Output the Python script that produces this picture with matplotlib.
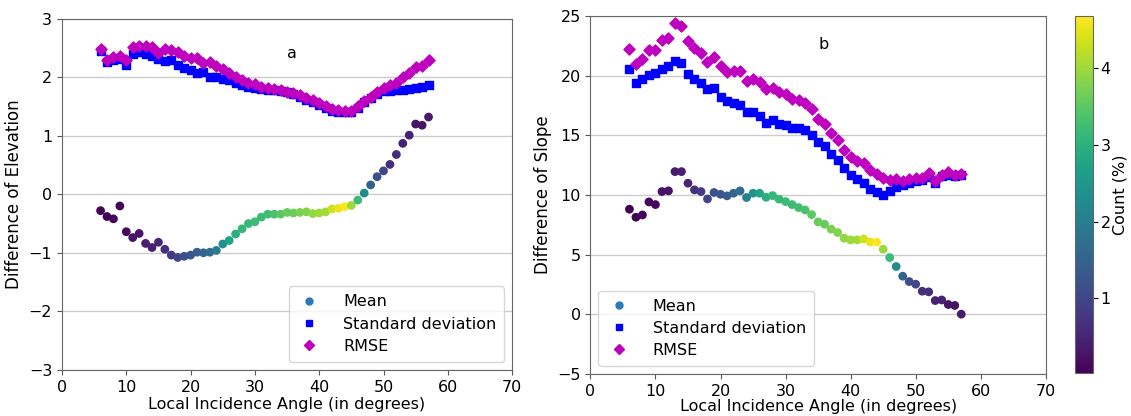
import matplotlib
matplotlib.use("Agg")
import matplotlib.pyplot as plt
from matplotlib.lines import Line2D
import numpy as np

# incidence angle bins (degrees)
angle = list(range(6, 58))

# share of pixels in each angle bin (%)
count = [0.03, 0.06, 0.09, 0.12, 0.15, 0.26, 0.28, 0.40, 0.42, 0.50,
         0.63, 0.82, 0.96, 1.15, 1.24, 1.38, 1.52, 1.70, 1.98, 2.36,
         2.73, 2.96, 3.10, 3.15, 3.20, 3.20, 3.25, 3.35, 3.50, 3.60,
         3.62, 3.75, 3.78, 3.90, 4.00, 4.02, 4.35, 4.55, 4.68, 3.98,
         3.20, 2.25, 1.47, 1.15, 1.00, 0.63, 0.63, 0.45, 0.45, 0.26,
         0.26, 0.35]

# elevation differences
elev_mean = [-0.28, -0.38, -0.42, -0.20, -0.64, -0.74, -0.67, -0.84, -0.91, -0.82,
             -0.94, -1.04, -1.08, -1.06, -1.04, -0.99, -1.00, -0.99, -0.96, -0.85,
             -0.79, -0.68, -0.59, -0.50, -0.47, -0.39, -0.34, -0.34, -0.34, -0.31,
             -0.32, -0.31, -0.30, -0.33, -0.32, -0.30, -0.25, -0.24, -0.21, -0.19,
             -0.10, 0.02, 0.16, 0.30, 0.40, 0.51, 0.68, 0.87, 1.01, 1.20,
             1.18, 1.32]
elev_std = [2.45, 2.26, 2.30, 2.32, 2.21, 2.40, 2.43, 2.39, 2.36, 2.31,
            2.27, 2.29, 2.21, 2.16, 2.13, 2.07, 2.09, 2.01, 2.00, 1.97,
            1.95, 1.90, 1.87, 1.83, 1.81, 1.80, 1.79, 1.78, 1.76, 1.74,
            1.71, 1.66, 1.61, 1.58, 1.52, 1.48, 1.42, 1.41, 1.40, 1.40,
            1.47, 1.57, 1.65, 1.72, 1.77, 1.77, 1.78, 1.79, 1.80, 1.81,
            1.83, 1.87]
elev_rmse = [2.48, 2.30, 2.34, 2.37, 2.30, 2.52, 2.53, 2.53, 2.52, 2.41,
             2.48, 2.46, 2.43, 2.37, 2.33, 2.33, 2.24, 2.26, 2.19, 2.14,
             2.07, 2.01, 1.96, 1.91, 1.88, 1.84, 1.81, 1.80, 1.78, 1.75,
             1.73, 1.69, 1.64, 1.61, 1.56, 1.50, 1.46, 1.44, 1.43, 1.43,
             1.50, 1.59, 1.67, 1.74, 1.81, 1.86, 1.91, 2.01, 2.07, 2.17,
             2.19, 2.29]

# slope differences
slope_mean = [8.80, 8.13, 8.32, 9.41, 9.19, 10.28, 10.34, 11.95, 11.95, 10.98,
              10.42, 10.28, 9.66, 10.20, 10.05, 9.92, 10.14, 10.34, 9.78, 10.14,
              10.14, 9.80, 9.94, 9.64, 9.44, 9.19, 8.94, 8.74, 8.35, 7.74,
              7.54, 7.13, 6.85, 6.37, 6.23, 6.23, 6.31, 6.06, 6.04, 5.45,
              4.75, 4.00, 3.19, 2.74, 2.52, 1.93, 1.88, 1.15, 1.20, 0.82,
              0.74, 0.01]
slope_std = [20.53, 19.35, 19.72, 20.08, 20.25, 20.55, 20.80, 21.22, 21.03, 20.13,
             19.72, 19.35, 18.91, 18.99, 18.24, 17.87, 17.68, 17.57, 16.95, 16.93,
             16.62, 16.06, 16.25, 15.95, 15.86, 15.58, 15.61, 15.42, 15.03, 14.44,
             14.08, 13.41, 12.90, 12.26, 11.70, 11.31, 11.00, 10.47, 10.25, 10.00,
             10.31, 10.64, 10.84, 10.98, 11.17, 11.23, 11.54, 11.03, 11.56, 11.68,
             11.62, 11.68]
slope_rmse = [22.23, 20.97, 21.36, 22.14, 22.14, 22.98, 23.18, 24.38, 24.15, 22.93,
              22.28, 21.86, 21.14, 21.53, 20.80, 20.33, 20.36, 20.36, 19.55, 19.69,
              19.46, 18.85, 18.96, 18.63, 18.49, 18.07, 17.96, 17.68, 17.18, 16.39,
              15.92, 15.19, 14.61, 13.74, 13.21, 12.82, 12.65, 12.09, 11.79, 11.42,
              11.26, 11.34, 11.15, 11.31, 11.45, 11.40, 11.87, 11.17, 11.68, 11.90,
              11.70, 11.73]

fig = plt.figure(figsize=(11.31, 4.16), dpi=100)
ax1 = fig.add_axes([0.0548, 0.111, 0.398, 0.844])
ax2 = fig.add_axes([0.522, 0.101, 0.4027, 0.861])
cax = fig.add_axes([0.9505, 0.104, 0.0157, 0.857])

vmin, vmax = min(count), max(count)


def panel(ax, mean, std, rmse, ylim, yticks, ylabel, tag, tag_y, legend_loc, xpad):
    ax.yaxis.grid(True, color="#cccccc", linewidth=1)
    ax.set_axisbelow(True)
    sc = ax.scatter(angle, mean, c=count, cmap="viridis", vmin=vmin, vmax=vmax,
                    s=28, marker="o", zorder=3)
    ax.scatter(angle, std, color="b", s=28, marker="s", zorder=4)
    ax.scatter(angle, rmse, color="m", s=32, marker="D", zorder=5)
    ax.set_xlim(0, 70)
    ax.set_ylim(*ylim)
    ax.set_xticks(range(0, 71, 10))
    ax.set_yticks(yticks)
    ax.set_xlabel("Local Incidence Angle (in degrees)", fontsize=11.5, labelpad=xpad)
    ax.set_ylabel(ylabel, fontsize=12)
    ax.tick_params(labelsize=11.5, color="0.35")
    for sp in ax.spines.values():
        sp.set_color("0.4")
    ax.text(35, tag_y, tag, fontsize=11.5, ha="left", va="center")
    handles = [
        Line2D([], [], linestyle="", marker="o", color="#2a7ab9", markersize=5),
        Line2D([], [], linestyle="", marker="s", color="b", markersize=5),
        Line2D([], [], linestyle="", marker="D", color="m", markersize=5),
    ]
    ax.legend(handles, ["Mean", "Standard deviation", "RMSE"], loc=legend_loc,
              fontsize=11.5, borderpad=0.5, handlelength=1.6, handletextpad=1.3,
              labelspacing=0.45)
    return sc


sc = panel(ax1, elev_mean, elev_std, elev_rmse, (-3, 3), range(-3, 4),
           "Difference of Elevation", "a", 2.4, "lower right", 2)
panel(ax2, slope_mean, slope_std, slope_rmse, (-5, 25), range(-5, 26, 5),
      "Difference of Slope", "b", 22.6, "lower left", 0.5)

cb = fig.colorbar(sc, cax=cax)
cb.set_ticks([1, 2, 3, 4])
cb.set_label("Count (%)", fontsize=11.5, labelpad=1)
cb.ax.tick_params(labelsize=11.5, pad=2)
cb.outline.set_edgecolor("0.4")

fig.savefig("out.png", dpi=100)
